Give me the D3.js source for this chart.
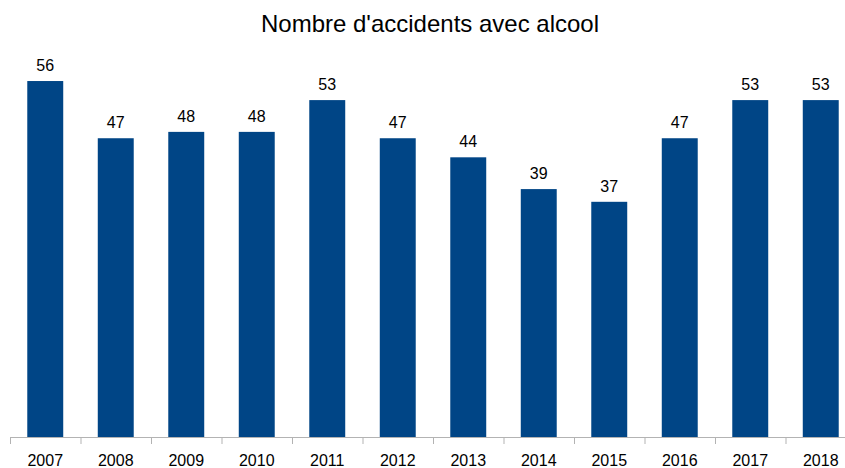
<!DOCTYPE html>
<html><head><meta charset="utf-8">
<script src="https://cdn.jsdelivr.net/npm/d3@7"></script>
<style>body{margin:0;background:#fff}svg{display:block}text{font-family:"Liberation Sans",Arial,sans-serif}</style>
</head><body><svg id="c" width="845" height="468"></svg>
<script>
const years = ["2007","2008","2009","2010","2011","2012","2013","2014","2015","2016","2017","2018"];
const accidents = [56,47,48,48,53,47,44,39,37,47,53,53];
const title = "Nombre d'accidents avec alcool";

const svg = d3.select("#c");
const x = d3.scaleBand().domain(years).range([10, 856]).paddingInner(0.49).paddingOuter(0.245);
const y = d3.scaleLinear().domain([0, 60]).range([437, 55.6]);

svg.append("text").attr("x", 430).attr("y", 32).attr("text-anchor", "middle")
  .attr("font-size", 24).attr("fill", "#000").text(title);

svg.selectAll("rect.bar").data(accidents).join("rect").attr("class","bar")
  .attr("x", (d,i) => x(years[i])).attr("width", x.bandwidth())
  .attr("y", d => y(d)).attr("height", d => y(0) - y(d))
  .attr("fill", "#004586");

svg.selectAll("text.lbl").data(accidents).join("text").attr("class","lbl")
  .attr("x", (d,i) => x(years[i]) + x.bandwidth()/2).attr("y", d => y(d) - 10)
  .attr("text-anchor","middle").attr("font-size", 16).attr("fill","#000").text(d => d);

// axis
const step = x.step();
const ax = svg.append("g");
ax.append("line").attr("x1", 10).attr("x2", 845).attr("y1", 437.5).attr("y2", 437.5).attr("stroke", "#b3b3b3");
const ticks = years.map((d,i) => 10 + i*step);
ax.selectAll("line.t").data(ticks).join("line").attr("class","t")
  .attr("x1", d => d + 0.5).attr("x2", d => d + 0.5).attr("y1", 437).attr("y2", 444).attr("stroke","#b3b3b3");
ax.selectAll("text").data(years).join("text")
  .attr("x", d => x(d) + x.bandwidth()/2).attr("y", 466)
  .attr("text-anchor","middle").attr("font-size", 16).attr("fill","#000").text(d => d);
</script></body></html>
